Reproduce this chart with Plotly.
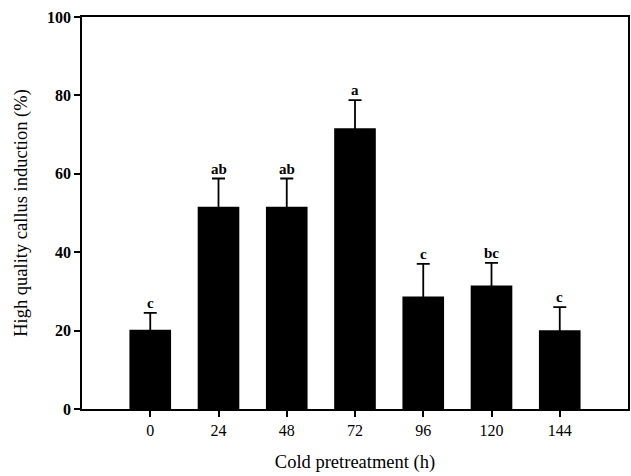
import plotly.graph_objects as go

categories = ["0", "24", "48", "72", "96", "120", "144"]
means = [20.2, 51.6, 51.6, 71.6, 28.7, 31.5, 20.1]
errors = [4.3, 7.2, 7.2, 7.2, 8.3, 5.8, 5.9]
letters = ["c", "ab", "ab", "a", "c", "bc", "c"]
y_ticks = [0, 20, 40, 60, 80, 100]

font_fam = "Liberation Serif, Times New Roman, serif"

fig = go.Figure()
fig.add_trace(go.Bar(
    x=list(range(len(categories))),
    y=means,
    width=0.61,
    marker=dict(color="black", line=dict(width=0)),
    error_y=dict(type="data", array=errors, symmetric=True,
                 color="black", thickness=1.8, width=6.5),
))

for i, (m, e, t) in enumerate(zip(means, errors, letters)):
    fig.add_annotation(x=i, y=m + e, text=t, showarrow=False,
                       yanchor="bottom", yshift=0,
                       font=dict(family=font_fam, size=15, color="black",
                                 weight="bold"))

fig.update_layout(
    width=631, height=476,
    margin=dict(l=82, r=1, t=17, b=67),
    plot_bgcolor="white", paper_bgcolor="white",
    showlegend=False,
    font=dict(family=font_fam, color="black"),
    xaxis=dict(
        range=[-1, 7], tickmode="array",
        tickvals=list(range(len(categories))), ticktext=categories,
        ticks="outside", ticklen=6, tickwidth=1.5, tickcolor="black",
        showline=True, linecolor="black", linewidth=1.8, mirror=True,
        showgrid=False, zeroline=False,
        tickfont=dict(family=font_fam, size=16, color="black"),
        title=dict(text="Cold pretreatment (h)", standoff=17,
                   font=dict(family=font_fam, size=18.5, color="black")),
    ),
    yaxis=dict(
        range=[0, 100], tickmode="array", tickvals=y_ticks,
        ticks="outside", ticklen=6, tickwidth=1.5, tickcolor="black",
        showline=True, linecolor="black", linewidth=1.8, mirror=True,
        showgrid=False, zeroline=False,
        tickfont=dict(family=font_fam, size=16, color="black", weight="bold"),
        title=dict(text="High quality callus induction (%)", standoff=14,
                   font=dict(family=font_fam, size=18.5, color="black")),
    ),
)

fig.write_html("out.html", config={"displayModeBar": False},
               post_script="document.body.style.margin='0';")
